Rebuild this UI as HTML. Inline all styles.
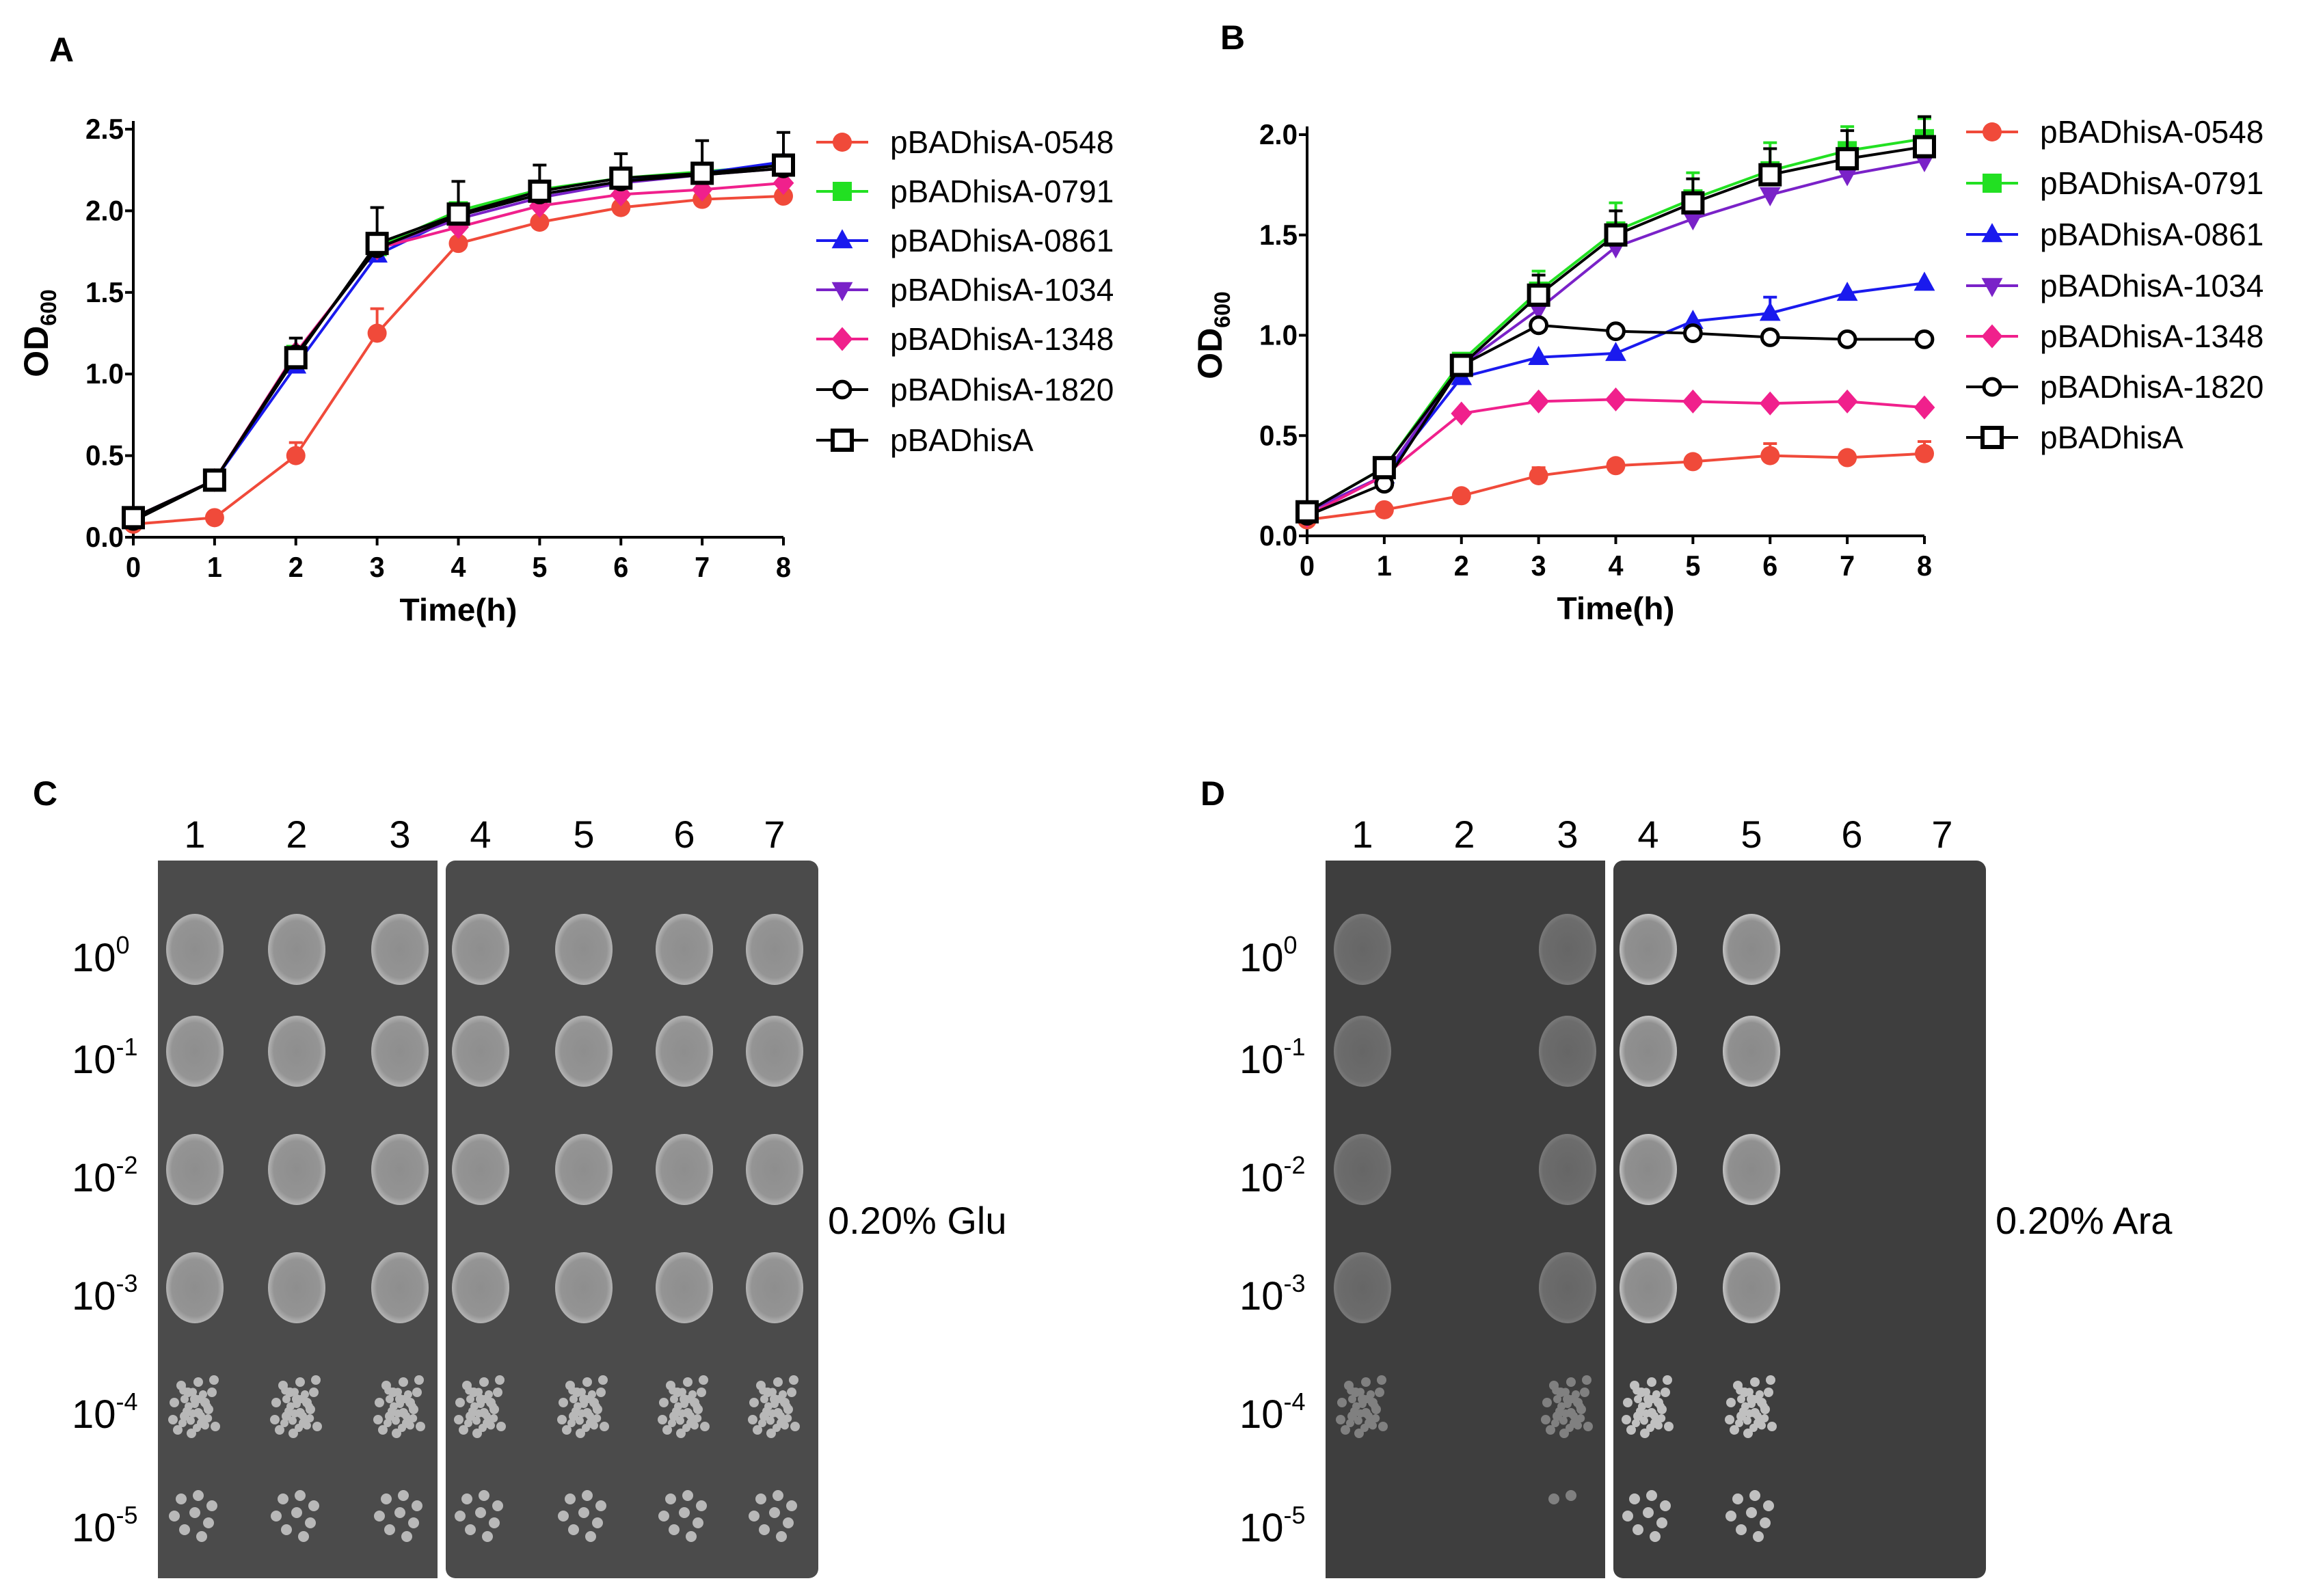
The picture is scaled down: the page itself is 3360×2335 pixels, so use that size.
<!DOCTYPE html>
<html><head><meta charset="utf-8"><style>
body{margin:0;background:#fff}
svg{display:block}
text{font-family:"Liberation Sans",sans-serif}
</style></head><body>
<svg id="fig" width="3360" height="2335" viewBox="0 0 3360 2335">
<defs>
<radialGradient id="spotG" cx="50%" cy="50%" r="50%"><stop offset="0" stop-color="#8e8e8e"/><stop offset="0.8" stop-color="#949494"/><stop offset="1" stop-color="#b4b4b4"/></radialGradient>
<radialGradient id="spotD" cx="50%" cy="50%" r="50%"><stop offset="0" stop-color="#666"/><stop offset="0.85" stop-color="#6c6c6c"/><stop offset="1" stop-color="#7a7a7a"/></radialGradient>
<radialGradient id="spotB" cx="50%" cy="50%" r="50%"><stop offset="0" stop-color="#8a8a8a"/><stop offset="0.8" stop-color="#909090"/><stop offset="1" stop-color="#c4c4c4"/></radialGradient>
</defs>
<g id="layer"></g>
</svg>
<script>
// ---------- Chart data ----------
const times = [0,1,2,3,4,5,6,7,8];
const seriesNames = ["pBADhisA-0548","pBADhisA-0791","pBADhisA-0861","pBADhisA-1034","pBADhisA-1348","pBADhisA-1820","pBADhisA"];
const A_0548 = [0.08,0.12,0.50,1.25,1.80,1.93,2.02,2.07,2.09];
const A_0791 = [0.12,0.35,1.12,1.78,2.00,2.13,2.20,2.24,2.28];
const A_0861 = [0.12,0.35,1.05,1.73,1.97,2.10,2.18,2.23,2.30];
const A_1034 = [0.12,0.35,1.12,1.77,1.95,2.08,2.17,2.22,2.26];
const A_1348 = [0.12,0.35,1.13,1.77,1.90,2.03,2.10,2.13,2.17];
const A_1820 = [0.10,0.35,1.12,1.77,1.97,2.10,2.18,2.22,2.26];
const A_pBAD = [0.12,0.35,1.10,1.80,1.98,2.12,2.20,2.23,2.28];
const A_err_0548 = [0,0,0.08,0.15,0,0,0,0,0];
const A_err_pBAD = [0.03,0.03,0.12,0.22,0.20,0.16,0.15,0.20,0.20];
const B_0548 = [0.08,0.13,0.20,0.30,0.35,0.37,0.40,0.39,0.41];
const B_0791 = [0.12,0.34,0.87,1.22,1.52,1.68,1.82,1.92,1.98];
const B_0861 = [0.12,0.30,0.79,0.89,0.91,1.07,1.11,1.21,1.26];
const B_1034 = [0.12,0.30,0.85,1.13,1.44,1.58,1.70,1.80,1.87];
const B_1348 = [0.10,0.30,0.61,0.67,0.68,0.67,0.66,0.67,0.64];
const B_1820 = [0.10,0.26,0.85,1.05,1.02,1.01,0.99,0.98,0.98];
const B_pBAD = [0.12,0.34,0.85,1.20,1.50,1.66,1.80,1.88,1.94];
const B_err_0548 = [0,0,0,0.04,0,0,0.06,0,0.06];
const B_err_0791 = [0,0,0.03,0.10,0.14,0.13,0.14,0.12,0.10];
const B_err_0861 = [0,0,0,0,0,0,0.08,0,0];
const B_err_pBAD = [0,0,0,0.10,0.12,0.12,0.13,0.14,0.15];
const yTicksA = ["0.0","0.5","1.0","1.5","2.0","2.5"];
const yTicksB = ["0.0","0.5","1.0","1.5","2.0"];

const colors = ["#f04a3a","#22e022","#1a1aee","#7a22c8","#f0208c","#000","#000"];
const markers = ["circle","square","tri","tridown","diamond","ocircle","osquare"];

const NS = "http://www.w3.org/2000/svg";
const layer = document.getElementById('layer');
function el(tag, attrs, parent, txt){
  const e = document.createElementNS(NS, tag);
  for (const k in attrs) e.setAttribute(k, attrs[k]);
  if (txt !== undefined) e.textContent = txt;
  (parent||layer).appendChild(e);
  return e;
}
function marker(g, type, x, y, c, s){
  let m;
  if (type==="circle") m = el('circle',{cx:x,cy:y,r:s,fill:c},g);
  else if (type==="square") m = el('rect',{x:x-s,y:y-s,width:2*s,height:2*s,fill:c},g);
  else if (type==="tri") m = el('polygon',{points:`${x},${y-s*1.2} ${x-s*1.1},${y+s*0.8} ${x+s*1.1},${y+s*0.8}`,fill:c},g);
  else if (type==="tridown") m = el('polygon',{points:`${x},${y+s*1.2} ${x-s*1.1},${y-s*0.8} ${x+s*1.1},${y-s*0.8}`,fill:c},g);
  else if (type==="diamond") m = el('polygon',{points:`${x},${y-s*1.25} ${x+s*1.1},${y} ${x},${y+s*1.25} ${x-s*1.1},${y}`,fill:c},g);
  else if (type==="ocircle") m = el('circle',{cx:x,cy:y,r:s*0.85,fill:"#fff",stroke:c,"stroke-width":5},g);
  else m = el('rect',{x:x-s,y:y-s,width:2*s,height:2*s,fill:"#fff",stroke:c,"stroke-width":6},g);
  
  
}

function drawChart(cfg){
  const g = el('g',{});
  
  
  const xs = t => cfg.x0 + (cfg.x1-cfg.x0)*t/8;
  const ys = v => cfg.y0 - (cfg.y0-cfg.y1)*v/cfg.ymax;
  const ya = el('line',{x1:cfg.x0,y1:cfg.y0+2,x2:cfg.x0,y2:cfg.y1-12,stroke:"#000","stroke-width":4},g);
   
  const xa = el('line',{x1:cfg.x0-2,y1:cfg.y0,x2:cfg.x1,y2:cfg.y0,stroke:"#000","stroke-width":4},g);
   
  cfg.yticks.forEach(t=>{
    const y = ys(parseFloat(t));
    el('line',{x1:cfg.x0-12,y1:y,x2:cfg.x0,y2:y,stroke:"#000","stroke-width":4},g);
    const tl = el('text',{x:cfg.x0-14,y:y+14,"text-anchor":"end","font-size":42,"font-weight":"bold",textLength:56,lengthAdjust:"spacingAndGlyphs"},g,t);
     
  });
  times.forEach(t=>{
    const x = xs(t);
    el('line',{x1:x,y1:cfg.y0,x2:x,y2:cfg.y0+12,stroke:"#000","stroke-width":4},g);
    const tl = el('text',{x:x,y:cfg.y0+58,"text-anchor":"middle","font-size":42,"font-weight":"bold",textLength:22,lengthAdjust:"spacingAndGlyphs"},g,String(t));
     
  });
  const xt = el('text',{x:(cfg.x0+cfg.x1)/2,y:cfg.y0+122,"text-anchor":"middle","font-size":46,"font-weight":"bold",textLength:172,lengthAdjust:"spacingAndGlyphs"},g,"Time(h)");
   
  const ycy = (cfg.y0+cfg.y1)/2;
  const yt = el('text',{x:cfg.x0-125,y:ycy,transform:`rotate(-90 ${cfg.x0-125} ${ycy})`,"text-anchor":"middle","font-size":50,"font-weight":"bold"},g);
   
  el('tspan',{},yt,"OD");
  el('tspan',{"font-size":32,dy:12},yt,"600");
  cfg.series.forEach((d,i)=>{
    const sg = el('g',{},g);
    
    
    const err = cfg.errs[i];
    if (err) err.forEach((e,k)=>{ if(e>0){
      const x=xs(times[k]), y=ys(d[k]), y2=ys(d[k]+e);
      el('line',{x1:x,y1:y,x2:x,y2:y2,stroke:colors[i],"stroke-width":4},sg);
      el('line',{x1:x-10,y1:y2,x2:x+10,y2:y2,stroke:colors[i],"stroke-width":4},sg);
    }});
    const pts = d.map((v,k)=>xs(times[k])+","+ys(v)).join(" ");
    const pl = el('polyline',{points:pts,fill:"none",stroke:colors[i],"stroke-width":4},sg);
    
    
    d.forEach((v,k)=>marker(sg,markers[i],xs(times[k]),ys(v),colors[i],14));
  });
  cfg.legendY.forEach((ly,i)=>{
    const lg = el('g',{},g);
    
    
    el('line',{x1:cfg.lx-38,y1:ly,x2:cfg.lx+38,y2:ly,stroke:colors[i],"stroke-width":4},lg);
    marker(lg,markers[i],cfg.lx,ly,colors[i],14);
    el('text',{x:cfg.lx+70,y:ly+16,"font-size":46},lg,seriesNames[i]);
  });
  const pl = el('text',{x:cfg.px,y:cfg.py,"font-size":50,"font-weight":"bold"},g,cfg.label);
   
}

drawChart({name:"growth-chart-glucose",label:"A",px:72,py:90,x0:195,x1:1146,y0:786,y1:189,ymax:2.5,yticks:yTicksA,
  series:[A_0548,A_0791,A_0861,A_1034,A_1348,A_1820,A_pBAD],
  errs:[A_err_0548,null,null,null,null,null,A_err_pBAD],
  lx:1232,legendY:[208,280,352,424,496,570,644]});
drawChart({name:"growth-chart-arabinose",label:"B",px:1785,py:72,x0:1912,x1:2815,y0:784,y1:197,ymax:2.0,yticks:yTicksB,
  series:[B_0548,B_0791,B_0861,B_1034,B_1348,B_1820,B_pBAD],
  errs:[B_err_0548,B_err_0791,B_err_0861,null,null,null,B_err_pBAD],
  lx:2914,legendY:[193,268,343,418,492,566,640]});

// ---------- Spot plates ----------
const rowY = [1389,1538,1711,1884,2057,2223];
const rowLabels = ["0","-1","-2","-3","-4","-5"];
const colX = [285,434,585,703,854,1001,1133];
const glucoseGrowth = [6,6,6,6,6,6,6];
const arabinoseGrowth = [5,0,6,6,6,0,0];
const arabinoseBright = [0,0,0,1,1,0,0];
const colonyPattern = [[-20,-30],[5,-35],[25,-20],[-30,-5],[0,-10],[20,5],[-15,15],[10,25],[30,30],[-25,35],[-5,40],[15,-5],[-10,-20],[28,-38],[-32,20],[5,10]];

function plate(off, growth, bright, isGlu, name, labelTxt, condTxt, nums){
  const g = el('g',{});
  
  
  const bg = isGlu ? "#4b4b4b" : "#3e3e3e";
  const p1 = el('rect',{x:231+off,y:1259,width:409,height:1050,fill:bg},g);
   
  const p2 = el('rect',{x:652+off,y:1259,width:545,height:1050,fill:bg,rx:14},g);
   
  growth.forEach((n,c)=>{
    const x = colX[c]+off;
    for(let r=0;r<n;r++){
      const y=rowY[r];
      const fill = isGlu ? "url(#spotG)" : (bright[c] ? "url(#spotB)" : "url(#spotD)");
      const dot = isGlu ? "#b8b8b8" : (bright[c] ? "#c0c0c0" : "#808080");
      if(r<4){
        const s = el('ellipse',{cx:x,cy:y,rx:42,ry:52,fill:fill},g);
         
      } else {
        const pts = r===4 ? colonyPattern : colonyPattern.slice(0, bright[c]||isGlu ? 8 : 2);
        pts.forEach(p=>{
          el('circle',{cx:x+p[0],cy:y+p[1],r:r===4?7:8,fill:dot},g);
          if(r===4) el('circle',{cx:x-p[0]*0.6,cy:y+p[1]*0.7+4,r:6,fill:dot},g);
        });
      }
    }
  });
  nums.forEach((t,i)=>{
    const tx = el('text',{x:colX[i]+off,y:1240,"text-anchor":"middle","font-size":56},g,t);
     
  });
  rowLabels.forEach((e,r)=>{
    const t = el('text',{x:105+off,y:rowY[r]+32,"font-size":58},g,"10");
    el('tspan',{"font-size":36,dy:-26},t,e);
     
  });
  const l = el('text',{x:48+off,y:1178,"font-size":50,"font-weight":"bold"},g,labelTxt);
   
  const ct = el('text',{x:1211+off,y:1805,"font-size":56},g,condTxt);
   
}
plate(0, glucoseGrowth, [1,1,1,1,1,1,1], true, "spot-plate-glucose","C","0.20% Glu",["1","2","3","4","5","6","7"]);
plate(1708, arabinoseGrowth, arabinoseBright, false, "spot-plate-arabinose","D","0.20% Ara",["1","2","3","4","5","6","7"]);
</script>
</body></html>
